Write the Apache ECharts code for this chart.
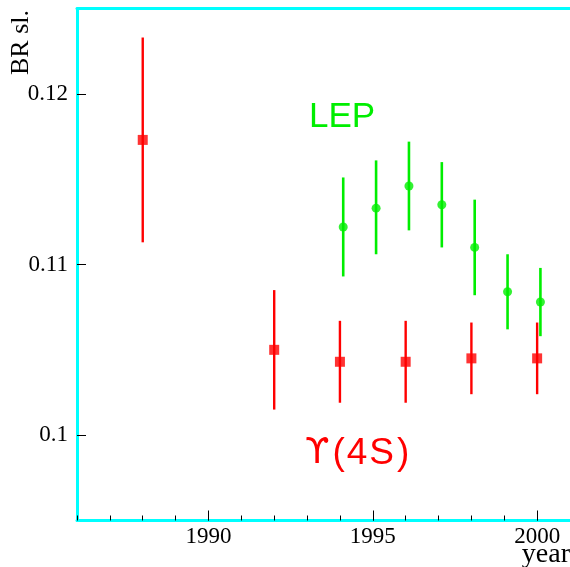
<!DOCTYPE html>
<html><head><meta charset="utf-8">
<script src="https://cdn.jsdelivr.net/npm/echarts@6/dist/echarts.min.js"></script>
<style>html,body{margin:0;padding:0;background:#fff}#c{width:570px;height:567px}</style>
</head><body><div id="c"></div>
<script>
// Upsilon(4S) measurements (red squares)
const ups_years = [1988, 1992, 1994, 1996, 1998, 2000];
const ups_br    = [0.1173, 0.1050, 0.1043, 0.1043, 0.1045, 0.1045];
const ups_low   = [0.1113, 0.1015, 0.1019, 0.1019, 0.1024, 0.1024];
const ups_high  = [0.1233, 0.1085, 0.1067, 0.1067, 0.1066, 0.1066];
// LEP measurements (green circles), plotted slightly right of the year
const lep_years = [1994.1, 1995.1, 1996.1, 1997.1, 1998.1, 1999.1, 2000.1];
const lep_br    = [0.1122, 0.1133, 0.1146, 0.1135, 0.1110, 0.1084, 0.1078];
const lep_low   = [0.1093, 0.1106, 0.1120, 0.1110, 0.1082, 0.1062, 0.1058];
const lep_high  = [0.1151, 0.1161, 0.1172, 0.1160, 0.1138, 0.1106, 0.1098];
// axes
const x_labels = [1990, 1995, 2000];
const y_labels = [0.1, 0.11, 0.12];

const chart = echarts.init(document.getElementById('c'), null, {renderer: 'canvas'});
const CYAN = '#00ffff', RED = '#ff0000', GREEN = '#00ee00';
const serif = '"Liberation Serif", "DejaVu Serif", serif';
const sans = '"Liberation Sans", Arial, sans-serif';

function errData(xs, lo, hi) { return xs.map((x, i) => [x, lo[i], hi[i]]); }
function errSeries(data, color, width) {
  return {
    type: 'custom', data: data, xAxisIndex: 0, yAxisIndex: 0, z: 3, clip: false,
    renderItem: function (params, api) {
      const a = api.coord([api.value(0), api.value(1)]);
      const b = api.coord([api.value(0), api.value(2)]);
      return {type: 'line', shape: {x1: a[0], y1: a[1], x2: b[0], y2: b[1]},
              style: {stroke: color, lineWidth: width}};
    }
  };
}

const option = {
  animation: false,
  backgroundColor: '#fff',
  grid: {left: 77, top: 8.5, width: 495, height: 512, show: false},
  xAxis: [{
    type: 'value', min: 1986, max: 2001,
    axisLine: {show: true, lineStyle: {color: CYAN, width: 3}},
    axisTick: {show: true, inside: true, length: 10, customValues: x_labels, lineStyle: {color: '#000', width: 1}},
    axisLabel: {customValues: x_labels, color: '#000', fontFamily: serif, fontSize: 23, margin: 5,
                formatter: v => String(Math.round(v))},
    splitLine: {show: false}
  }, {
    type: 'value', min: 1986, max: 2001, interval: 1, position: 'bottom',
    axisLine: {show: false},
    axisTick: {show: true, inside: true, length: 5, lineStyle: {color: '#000', width: 1}},
    axisLabel: {show: false}, splitLine: {show: false}
  }, {
    type: 'value', min: 1986, max: 2001, position: 'top',
    axisLine: {show: true, lineStyle: {color: CYAN, width: 3}},
    axisTick: {show: false}, axisLabel: {show: false}, splitLine: {show: false}
  }],
  yAxis: [{
    type: 'value', min: 0.095, max: 0.125,
    axisLine: {show: true, lineStyle: {color: CYAN, width: 3}},
    axisTick: {show: true, inside: true, length: 9, customValues: y_labels, lineStyle: {color: '#000', width: 1}},
    axisLabel: {customValues: y_labels, color: '#000', fontFamily: serif, fontSize: 23, margin: 9,
                formatter: v => String(+v.toFixed(3))},
    splitLine: {show: false}
  }],
  series: [
    errSeries(errData(ups_years, ups_low, ups_high), RED, 2.4),
    errSeries(errData(lep_years, lep_low, lep_high), GREEN, 2.6),
    {type: 'scatter', data: ups_years.map((x, i) => [x, ups_br[i]]), symbol: 'rect', symbolSize: 10,
     itemStyle: {color: RED}, z: 4, clip: false},
    {type: 'scatter', data: lep_years.map((x, i) => [x, lep_br[i]]), symbol: 'circle', symbolSize: 9,
     itemStyle: {color: GREEN}, z: 4, clip: false}
  ],
  graphic: [
    {type: 'text', left: 309, top: 100, style: {text: 'LEP', fill: GREEN, font: '35px ' + sans}},
    {type: 'text', left: 305, top: 435, style: {
      text: '{u|ϒ}{p|(}{d|4}{s|S}{q|)}', fill: RED,
      rich: {
        u: {font: '35px "DejaVu Sans", sans-serif', fill: RED},
        p: {font: '37px ' + sans, fill: RED, padding: [0, 0, 0, 3]},
        d: {font: '37px ' + sans, fill: RED, padding: [0, 0, 0, 2]},
        s: {font: '37px ' + sans, fill: RED, padding: [0, 0, 0, 2]},
        q: {font: '37px ' + sans, fill: RED, padding: [0, 0, 0, 3]}
      }}},
    {type: 'text', x: 8, y: 75, rotation: Math.PI / 2, style: {text: 'BR sl.', fill: '#000', font: '26px ' + serif, textAlign: 'left', textVerticalAlign: 'top'}},
    {type: 'text', right: 0, top: 541, style: {text: 'year', fill: '#000', font: '28px ' + serif}}
  ]
};
chart.setOption(option);
</script></body></html>
